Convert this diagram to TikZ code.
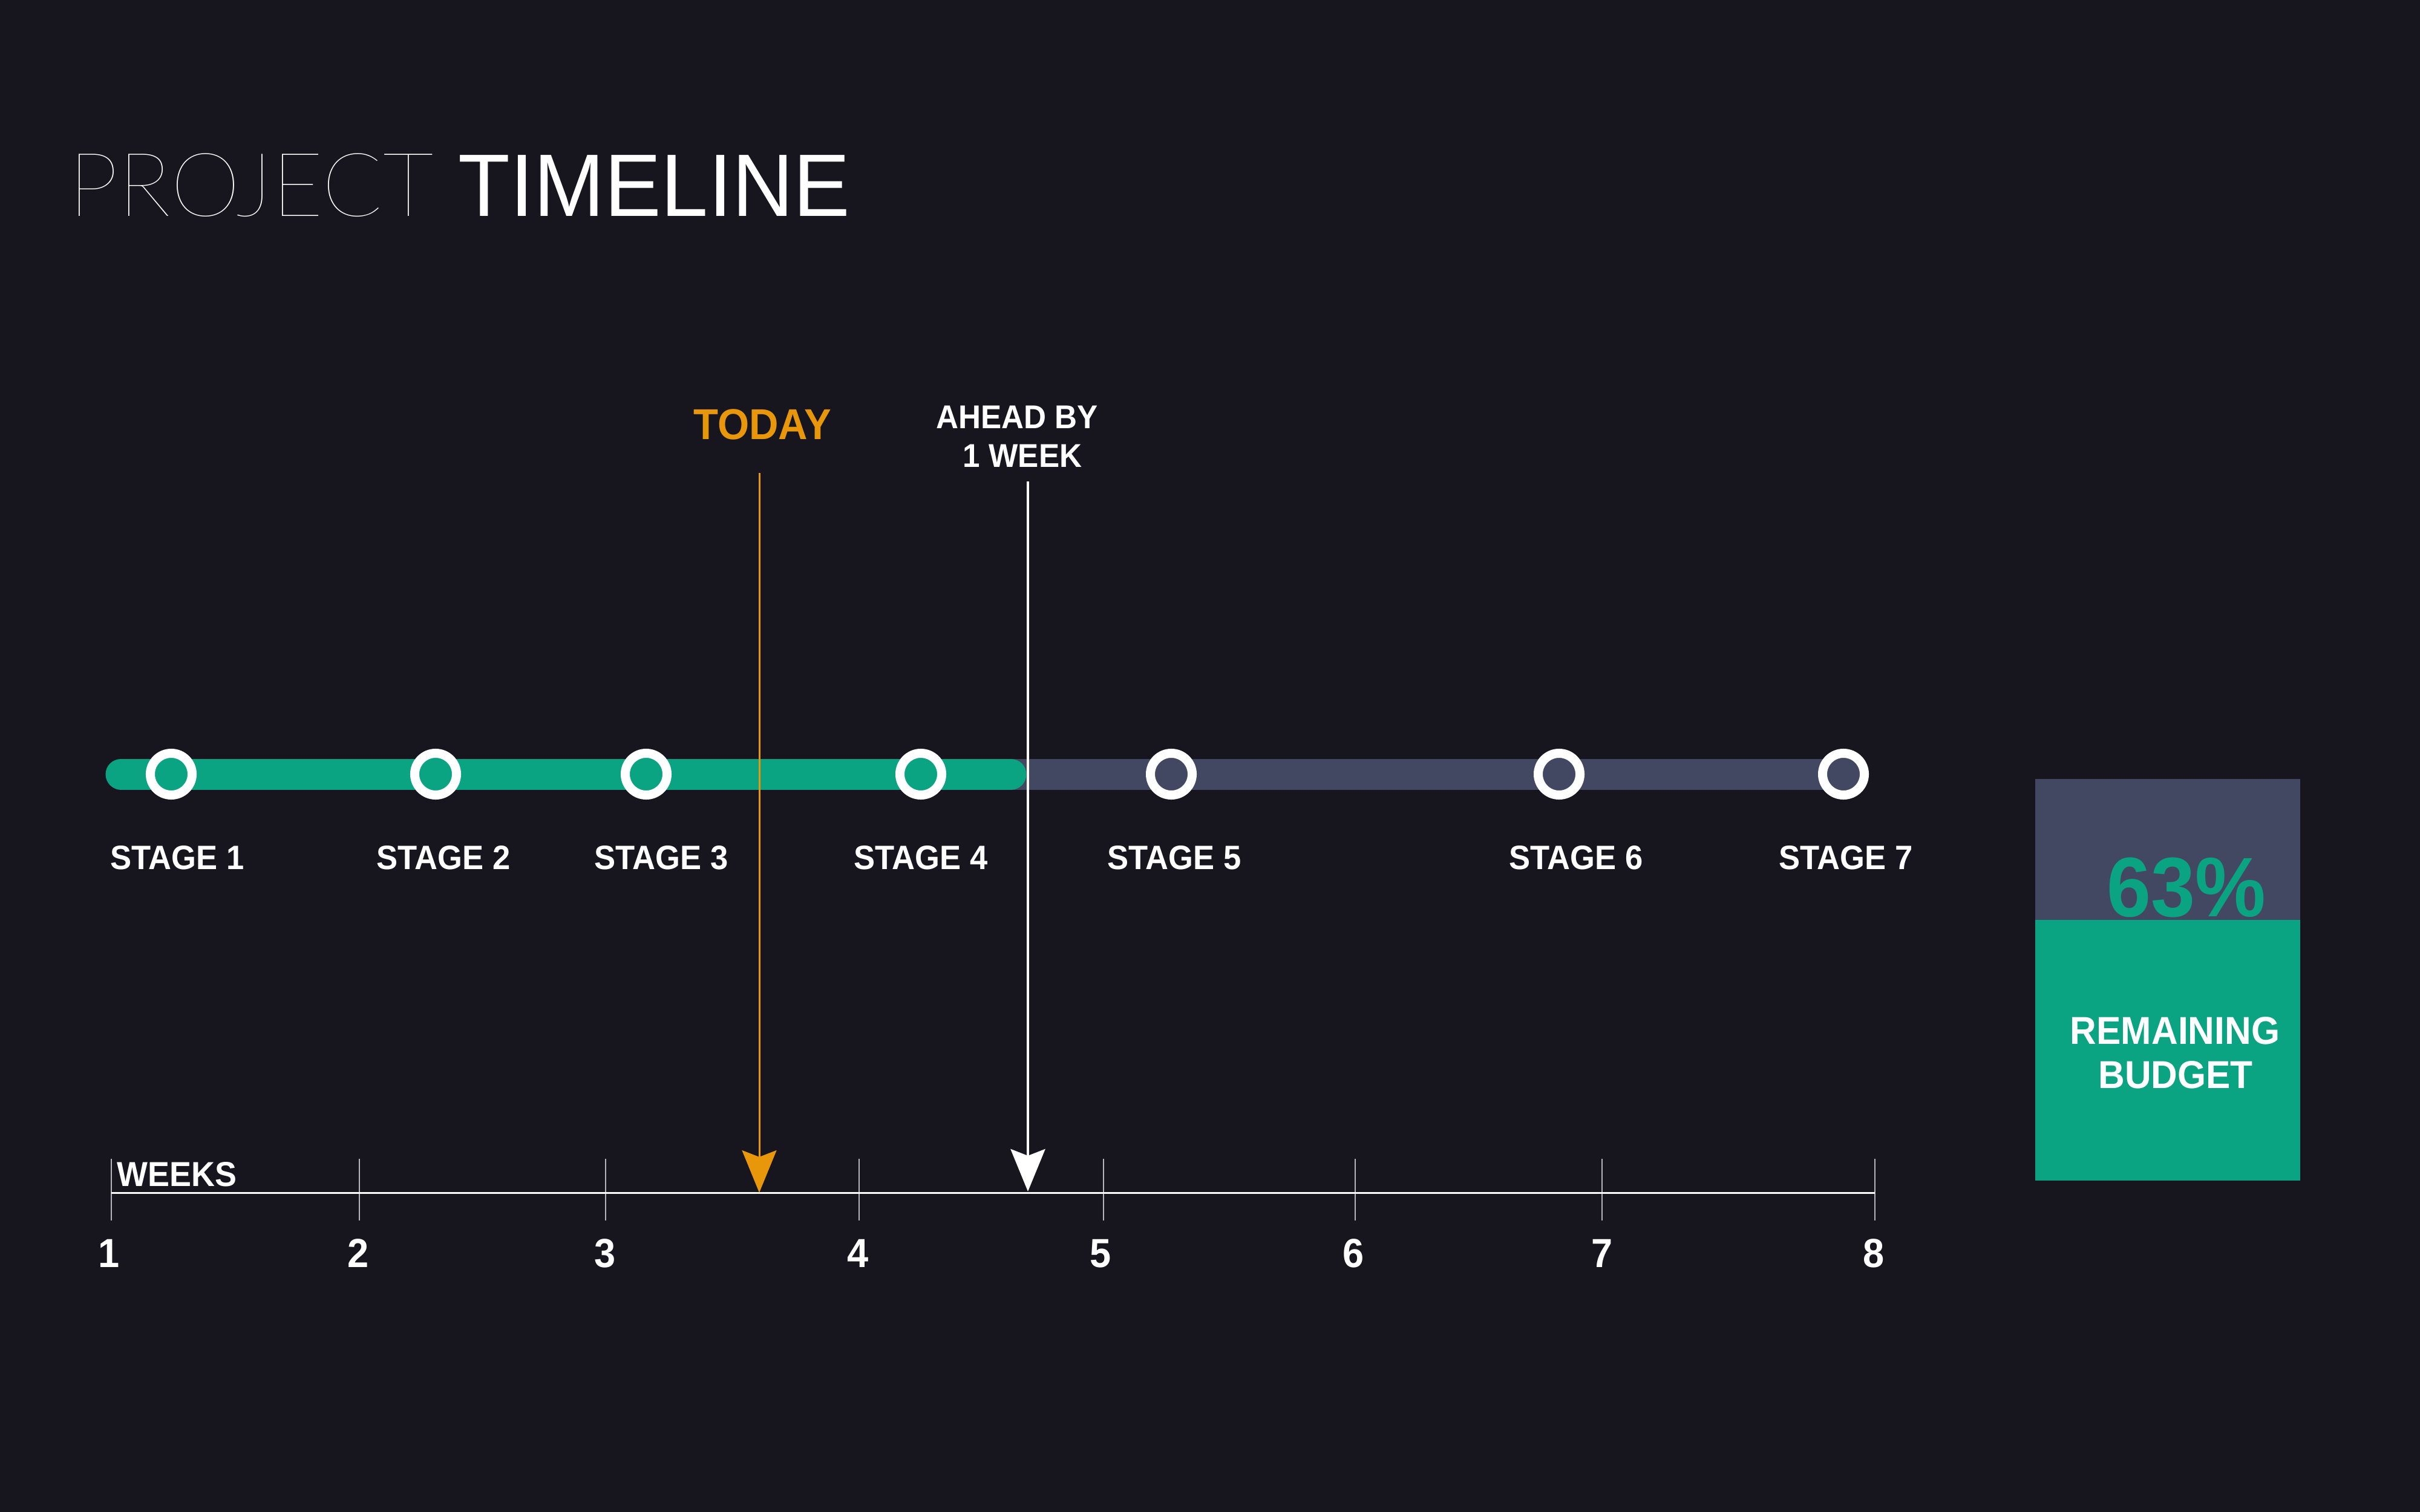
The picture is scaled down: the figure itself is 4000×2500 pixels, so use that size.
\documentclass[tikz,border=0pt]{standalone}
\usepackage{fontspec}
\setmainfont{Liberation Sans}
\newfontfamily\labfont{Liberation Sans}[FakeStretch=0.94]
\newfontfamily\headfont{Liberation Sans}[FakeStretch=0.957]
% lightest available weight for the first title word
\IfFontExistsTF{Lato Hairline}{%
  \newfontfamily\thinfont{Lato Hairline}\def\thinsize{41.7pt}}{%
  \IfFontExistsTF{Fira Sans Thin}{%
    \newfontfamily\thinfont{Fira Sans Thin}\def\thinsize{43.4pt}}{%
    \IfFontExistsTF{Poppins Thin}{%
      \newfontfamily\thinfont{Poppins Thin}\def\thinsize{42.8pt}}{%
      \IfFontExistsTF{DejaVu Sans ExtraLight}{%
        \newfontfamily\thinfont{DejaVu Sans ExtraLight}\def\thinsize{41pt}}{%
        \newfontfamily\thinfont{Liberation Sans}\def\thinsize{41.7pt}}}}}
\usetikzlibrary{arrows.meta}

\definecolor{bg}{HTML}{17161F}
\definecolor{done}{HTML}{0BA483}
\definecolor{todo}{HTML}{434862}
\definecolor{today}{HTML}{E8960A}
\definecolor{tick}{HTML}{B4B4BA}

\tikzset{
  stagelabel/.style={anchor=base, text=white, inner sep=0pt,
    font=\labfont\bfseries\fontsize{15.9pt}{18pt}\selectfont},
  weeknum/.style={anchor=base, text=white, inner sep=0pt,
    font=\labfont\bfseries\fontsize{19.1pt}{22pt}\selectfont},
  milestone/.style={circle, draw=white, line width=4.27pt, inner sep=0pt,
    minimum size=0.69cm},
  barline/.style={line width=14.5pt},
  marker/.style={-{Stealth[length=19.9pt, width=16.2pt, inset=3.1pt]}},
}

\begin{document}
\begin{tikzpicture}[x=0.01cm, y=-0.01cm]
  % canvas
  \fill[bg] (0,0) rectangle (4000,2500);
  \useasboundingbox (0,0) rectangle (4000,2500);

  % title
  \node[anchor=base west, inner sep=0pt, text=white,
        font=\thinfont\fontsize{\thinsize}{48pt}\selectfont] (tproj) at (113,357) {PROJECT};
  \node[anchor=base west, inner sep=0pt, text=white,
        font=\headfont\fontsize{41.7pt}{48pt}\selectfont] (ttime) at (757,357) {TIMELINE};

  % progress bars
  \coordinate (gs) at (1650,1280);
  \coordinate (ge) at (3047,1280);
  \draw[barline, todo] (gs) -- (ge);
  \coordinate (ps) at (200,1280);
  \coordinate (pe) at (1671,1280);
  \draw[barline, done, line cap=round] (ps) -- (pe);

  % milestones
  \node[milestone, fill=done] (m1) at (283,1280) {};
  \node[milestone, fill=done] (m2) at (720,1280) {};
  \node[milestone, fill=done] (m3) at (1068,1280) {};
  \node[milestone, fill=done] (m4) at (1522,1280) {};
  \node[milestone, fill=todo] (m5) at (1936,1280) {};
  \node[milestone, fill=todo] (m6) at (2577,1280) {};
  \node[milestone, fill=todo] (m7) at (3047,1280) {};

  % stage labels
  \node[stagelabel] (s1) at (293,1437) {STAGE 1};
  \node[stagelabel] (s2) at (733,1437) {STAGE 2};
  \node[stagelabel] (s3) at (1093,1437) {STAGE 3};
  \node[stagelabel] (s4) at (1522,1437) {STAGE 4};
  \node[stagelabel] (s5) at (1941,1437) {STAGE 5};
  \node[stagelabel] (s6) at (2605,1437) {STAGE 6};
  \node[stagelabel] (s7) at (3051,1437) {STAGE 7};

  % week axis
  \coordinate (w1) at (184,1972);
  \coordinate (w2) at (594,1972);
  \coordinate (w3) at (1001,1972);
  \coordinate (w4) at (1420,1972);
  \coordinate (w5) at (1824,1972);
  \coordinate (w6) at (2240,1972);
  \coordinate (w7) at (2648,1972);
  \coordinate (w8) at (3099,1972);
  \foreach \w in {1,...,8} {
    \draw[tick, line width=0.57pt] ([yshift=0.56cm]w\w) -- ([yshift=-0.46cm]w\w);
  }
  \draw[white, line width=0.85pt] (w1) -- (w8);
  \node[anchor=base west, inner sep=0pt, text=white,
        font=\labfont\bfseries\fontsize{16.3pt}{19pt}\selectfont] (weeks) at (193,1961) {WEEKS};
  \node[weeknum] (n1) at (180,2095) {1};
  \node[weeknum] (n2) at (592,2095) {2};
  \node[weeknum] (n3) at (1000,2095) {3};
  \node[weeknum] (n4) at (1418,2095) {4};
  \node[weeknum] (n5) at (1819,2095) {5};
  \node[weeknum] (n6) at (2237,2095) {6};
  \node[weeknum] (n7) at (2648,2095) {7};
  \node[weeknum] (n8) at (3097,2095) {8};

  % today marker
  \node[anchor=base, inner sep=0pt, text=today,
        font=\labfont\bfseries\fontsize{20.3pt}{24pt}\selectfont] (today) at (1260,726) {TODAY};
  \coordinate (todaytop) at (1255,782);
  \coordinate (todayend) at (1255,1972);
  \draw[marker, today, line width=0.85pt] (todaytop) -- (todayend);

  % schedule marker
  \node[stagelabel, font=\labfont\bfseries\fontsize{15.5pt}{18pt}\selectfont] (ahead1) at (1681,708) {AHEAD BY};
  \node[stagelabel, font=\labfont\bfseries\fontsize{15.5pt}{18pt}\selectfont] (ahead2) at (1690,772) {1 WEEK};
  \coordinate (aheadtop) at (1699,796);
  \coordinate (aheadend) at (1699,1970);
  \draw[marker, white, line width=1.4pt] (aheadtop) -- (aheadend);

  % budget box
  \fill[todo] (3364,1288) rectangle (3802,1521);
  \fill[done] (3364,1521) rectangle (3802,1952);
  \node[anchor=base, inner sep=0pt, text=done,
        font=\labfont\bfseries\fontsize{39.7pt}{44pt}\selectfont] (pct) at (3614,1515) {63\%};
  \node[stagelabel, font=\labfont\bfseries\fontsize{18.3pt}{22pt}\selectfont] (rem) at (3595,1726) {REMAINING};
  \node[stagelabel, font=\labfont\bfseries\fontsize{18.3pt}{22pt}\selectfont] (bud) at (3596,1799) {BUDGET};
\end{tikzpicture}
\end{document}
